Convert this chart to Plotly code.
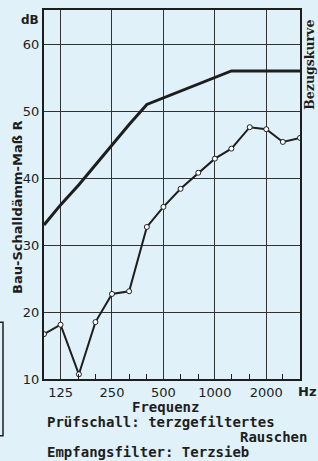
import plotly.graph_objects as go
import math

# Data
freqs = [100, 125, 160, 200, 250, 315, 400, 500, 630, 800, 1000, 1250, 1600, 2000, 2500, 3150]
reference_curve = [33, 36, 39, 42, 45, 48, 51, 52, 53, 54, 55, 56, 56, 56, 56, 56]
measured_R = [16.7, 18.1, 10.7, 18.5, 22.7, 23.1, 32.7, 35.7, 38.4, 40.8, 42.9, 44.4, 47.6, 47.3, 45.4, 46.0]
x_tickvals = [125, 250, 500, 1000, 2000]
x_ticktext = ["125", "250", "500", "1000", "2000"]
y_tickvals = [10, 20, 30, 40, 50, 60]
minor_freqs = [160, 200, 315, 400, 630, 800, 1250, 1600, 2500]

BG = "#e0f1f9"
INK = "#1e1e1e"
W, H = 318, 461
L, R, T, B = 44, 18, 8, 82
PW, PH = W - L - R, H - T - B

def px(X):
    return (X - L) / PW

def py(Y):
    return (H - B - Y) / PH

fig = go.Figure()
fig.add_trace(go.Scatter(x=freqs, y=reference_curve, mode="lines",
                         line=dict(color=INK, width=3), hoverinfo="skip"))
fig.add_trace(go.Scatter(x=freqs, y=measured_R, mode="lines+markers",
                         line=dict(color=INK, width=2),
                         marker=dict(symbol="circle", size=5, color="#ffffff",
                                     line=dict(color=INK, width=1)),
                         hoverinfo="skip"))

fig.update_layout(
    width=W, height=H,
    margin=dict(l=L, r=R, t=T, b=B),
    paper_bgcolor=BG, plot_bgcolor=BG,
    showlegend=False,
    font=dict(family="DejaVu Sans", color=INK),
    xaxis=dict(type="log", range=[math.log10(100), math.log10(3150)],
               tickvals=x_tickvals, ticktext=x_ticktext,
               showgrid=True, gridcolor="#333333", gridwidth=1,
               showline=True, linecolor=INK, linewidth=2, mirror=True,
               ticks="", tickfont=dict(size=13, family="DejaVu Sans", color=INK),
               zeroline=False,
               minor=dict(tickvals=minor_freqs, ticks="inside", ticklen=5,
                          tickcolor=INK, tickwidth=1, showgrid=False)),
    yaxis=dict(range=[10, 65.1], tickvals=y_tickvals,
               showgrid=True, gridcolor="#333333", gridwidth=1,
               showline=True, linecolor=INK, linewidth=2, mirror=True,
               ticks="", tickfont=dict(size=13, family="DejaVu Sans", color=INK),
               zeroline=False),
)

ann = [
    dict(text="<b>dB</b>", x=px(30), y=py(18), size=12, family="DejaVu Sans"),
    dict(text="<b>Bau-Schalldämm-Maß R</b>", x=px(18), y=py(206), size=13,
         family="DejaVu Sans", angle=-90),
    dict(text="<b>Bezugskurve</b>", x=px(310), y=py(63), size=12.5,
         family="DejaVu Serif", angle=-90),
    dict(text="<b>Hz</b>", x=px(307), y=py(392), size=13, family="DejaVu Sans"),
    dict(text="<b>Frequenz</b>", x=px(165), y=py(407), size=14, family="DejaVu Sans Mono"),
    dict(text="<b>Prüfschall: terzgefiltertes</b>", x=px(45), y=py(422), size=14,
         family="DejaVu Sans Mono", xanchor="left"),
    dict(text="<b>Rauschen</b>", x=px(309), y=py(437), size=14,
         family="DejaVu Sans Mono", xanchor="right"),
    dict(text="<b>Empfangsfilter: Terzsieb</b>", x=px(45), y=py(452), size=14,
         family="DejaVu Sans Mono", xanchor="left"),
]
for a in ann:
    fig.add_annotation(text=a["text"], x=a["x"], y=a["y"], xref="paper", yref="paper",
                       showarrow=False, textangle=a.get("angle", 0),
                       xanchor=a.get("xanchor", "center"), yanchor="middle",
                       font=dict(size=a["size"], family=a["family"], color=INK))

# clipped bracket of neighbouring figure at left edge
fig.add_shape(type="path", xref="paper", yref="paper",
              path=f"M {px(0)} {py(322)} L {px(3)} {py(322)} L {px(3)} {py(436)} L {px(0)} {py(436)}",
              line=dict(color=INK, width=1.5))

fig.write_html("out.html", config={"displayModeBar": False},
               post_script="document.body.style.margin='0';document.body.style.background='" + BG + "';")
